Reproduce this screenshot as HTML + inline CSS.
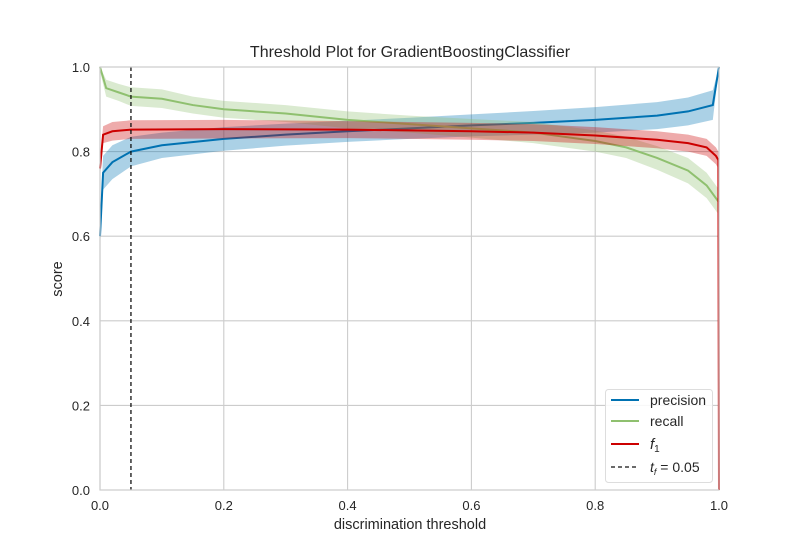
<!DOCTYPE html>
<html><head><meta charset="utf-8"><style>
body{margin:0;background:#fff;font-family:"Liberation Sans",sans-serif}
svg text{font-family:"Liberation Sans",sans-serif;fill:#262626}
</style></head><body>
<svg id="chart" width="800" height="550" xmlns="http://www.w3.org/2000/svg">
<rect width="800" height="550" fill="#fff"/>
<g id="grid"></g>
<g id="series"></g>
<rect x="100" y="67" width="619" height="423" fill="none" stroke="#ccc" stroke-width="1.2"/>
<text x="410" y="57" text-anchor="middle" font-size="16">Threshold Plot for GradientBoostingClassifier</text>
<text x="410" y="529" text-anchor="middle" font-size="14.5">discrimination threshold</text>
<text x="62" y="279" text-anchor="middle" font-size="14.5" transform="rotate(-90 62 279)">score</text>
<g id="ticks"></g>
<g>
<rect x="605.5" y="389.5" width="107" height="93" rx="3" fill="#fff" fill-opacity="0.85" stroke="#ddd"/>
<g><line x1="611" y1="400" x2="639" y2="400" stroke="#0072b2" stroke-width="2"/><text x="650" y="405" font-size="14">precision</text></g>
<g><line x1="611" y1="421" x2="639" y2="421" stroke="#8fc06f" stroke-width="2"/><text x="650" y="426" font-size="14">recall</text></g>
<g><line x1="611" y1="444" x2="639" y2="444" stroke="#cc0000" stroke-width="2"/><text x="650" y="449" font-size="15" font-style="italic">f<tspan font-size="10" dy="3" font-style="normal">1</tspan></text></g>
<g><line x1="611" y1="467" x2="639" y2="467" stroke="#111" stroke-width="1.3" stroke-dasharray="4,3"/><text x="650" y="472" font-size="14"><tspan font-style="italic">t</tspan><tspan font-size="9" dy="3" font-style="italic">f</tspan><tspan dy="-3"> = 0.05</tspan></text></g>
</g>
</svg>
<script>
const xTicks=[0,0.2,0.4,0.6,0.8,1.0];
const yTicks=[0,0.2,0.4,0.6,0.8,1.0];
const precX=[0,0.005,0.02,0.05,0.1,0.2,0.3,0.4,0.5,0.6,0.7,0.8,0.9,0.95,0.99,1.0];
const precY=[0.6,0.75,0.775,0.80,0.815,0.83,0.84,0.848,0.855,0.862,0.868,0.875,0.885,0.895,0.91,1.0];
const precBand=[0.03,0.04,0.04,0.035,0.03,0.028,0.026,0.025,0.025,0.026,0.028,0.03,0.032,0.033,0.035,0.0];
const recX=[0,0.01,0.03,0.05,0.1,0.15,0.2,0.3,0.4,0.5,0.6,0.7,0.8,0.85,0.9,0.95,0.98,1.0];
const recY=[1.0,0.95,0.94,0.93,0.925,0.91,0.90,0.89,0.875,0.865,0.855,0.845,0.825,0.81,0.785,0.755,0.72,0.68];
const recBand=[0.01,0.02,0.02,0.022,0.022,0.02,0.02,0.02,0.02,0.02,0.022,0.025,0.025,0.025,0.028,0.03,0.03,0.03];
const f1X=[0,0.005,0.02,0.05,0.2,0.4,0.6,0.7,0.8,0.9,0.95,0.98,0.995,0.999,1.0];
const f1Y=[0.76,0.84,0.848,0.852,0.853,0.852,0.848,0.845,0.838,0.828,0.82,0.81,0.79,0.78,0.0];
const f1Band=[0.02,0.02,0.022,0.022,0.022,0.02,0.02,0.02,0.02,0.02,0.02,0.02,0.02,0.02,0.0];
const thresh=0.05;
const X=v=>100+v*619, Y=v=>490-v*423;
const NS="http://www.w3.org/2000/svg";
function mk(t,a,p){const e=document.createElementNS(NS,t);for(const k in a)e.setAttribute(k,a[k]);p.appendChild(e);return e;}
const grid=document.getElementById('grid'),ticks=document.getElementById('ticks'),ser=document.getElementById('series');
xTicks.forEach(v=>{const l=mk('line',{x1:X(v),x2:X(v),y1:67,y2:490,stroke:'#ccc','stroke-width':1.1},grid);


const t=mk('text',{x:X(v),y:510,'text-anchor':'middle','font-size':13},ticks);t.textContent=v.toFixed(1);

});
yTicks.forEach(v=>{const l=mk('line',{x1:100,x2:719,y1:Y(v),y2:Y(v),stroke:'#ccc','stroke-width':1.1},grid);


const t=mk('text',{x:90,y:Y(v)+5,'text-anchor':'end','font-size':13},ticks);t.textContent=v.toFixed(1);

});
function draw(xs,ys,bs,col,name){
let up=xs.map((x,i)=>X(x)+','+Y(Math.min(1,ys[i]+bs[i]))),dn=xs.map((x,i)=>X(x)+','+Y(Math.max(0,ys[i]-bs[i]))).reverse();
const b=mk('polygon',{points:up.concat(dn).join(' '),fill:col,'fill-opacity':0.33},ser);


const l=mk('polyline',{points:xs.map((x,i)=>X(x)+','+Y(ys[i])).join(' '),fill:'none',stroke:col,'stroke-width':2},ser);

}
draw(precX,precY,precBand,'#0072b2','precision');
draw(recX,recY,recBand,'#8fc06f','recall');
draw(f1X,f1Y,f1Band,'#cc0000','f1');
const d=mk('line',{x1:X(thresh),x2:X(thresh),y1:67,y2:490,stroke:'#111','stroke-width':1.3,'stroke-dasharray':'4,3'},ser);


</script>
</body></html>
